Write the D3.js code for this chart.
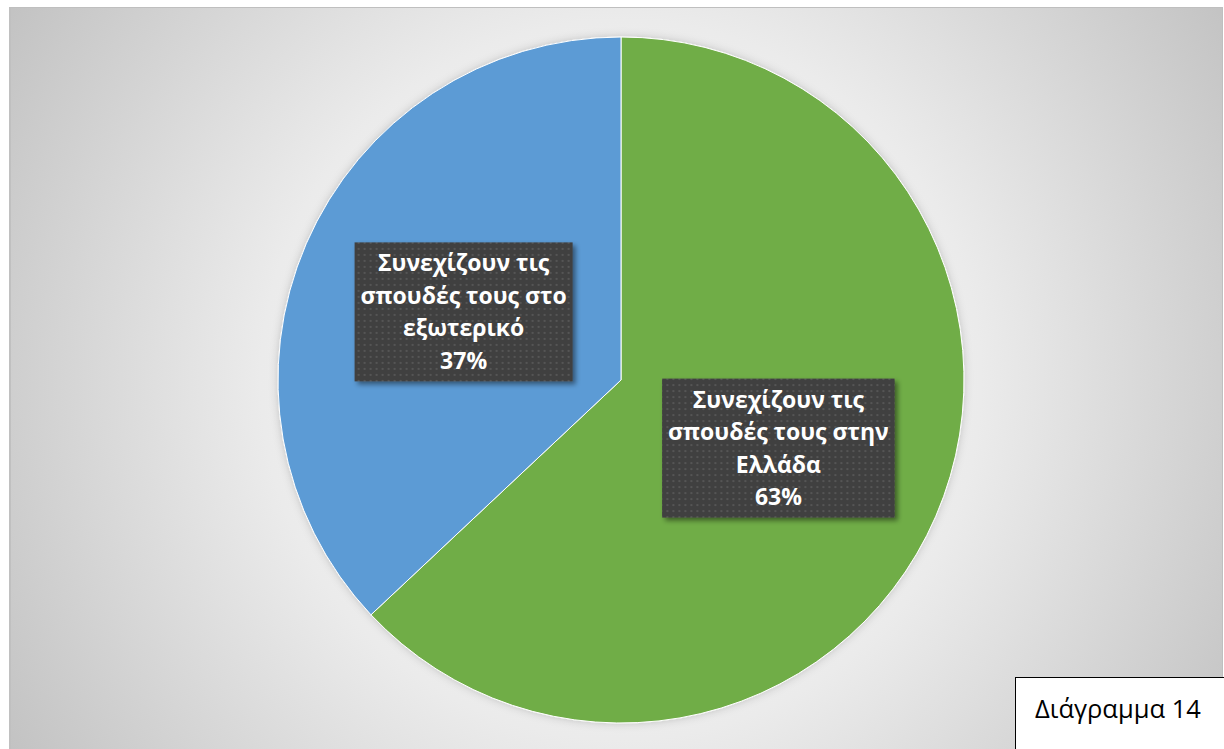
<!DOCTYPE html>
<html>
<head>
<meta charset="utf-8">
<script src="https://cdn.jsdelivr.net/npm/d3@7"></script>
<style>
  html, body { margin: 0; padding: 0; background: #ffffff; }
  svg { display: block; }
</style>
</head>
<body>
<svg id="chart" width="1224" height="749"></svg>
<script>
// ---- data ----
const categories = [
  "Συνεχίζουν τις σπουδές τους στην Ελλάδα",
  "Συνεχίζουν τις σπουδές τους στο εξωτερικό"
];
const values = [63, 37];
const labelLines = [
  ["Συνεχίζουν τις", "σπουδές τους στην", "Ελλάδα"],
  ["Συνεχίζουν τις", "σπουδές τους στο", "εξωτερικό"]
];
const colors = ["#70AD47", "#5B9BD5"];
const captionText = "Διάγραμμα 14";

// ---- layout ----
const W = 1224, H = 749;
const cx = 621, cy = 380, R = 343;
const svg = d3.select("#chart");
const defs = svg.append("defs");

const bg = defs.append("radialGradient").attr("id", "bgGrad")
  .attr("gradientUnits", "userSpaceOnUse")
  .attr("cx", cx).attr("cy", cy).attr("r", 720);
bg.append("stop").attr("offset", 0).attr("stop-color", "#ffffff");
bg.append("stop").attr("offset", 0.5).attr("stop-color", "#ebebeb");
bg.append("stop").attr("offset", 1).attr("stop-color", "#c2c2c2");

const pat = defs.append("pattern").attr("id", "dots")
  .attr("patternUnits", "userSpaceOnUse").attr("width", 6).attr("height", 6);
pat.append("rect").attr("width", 6).attr("height", 6).attr("fill", "#404040");
pat.append("rect").attr("x", 2).attr("y", 2).attr("width", 2).attr("height", 2).attr("fill", "#555555");

const sh = defs.append("filter").attr("id", "boxShadow")
  .attr("x", "-20%").attr("y", "-20%").attr("width", "140%").attr("height", "140%");
sh.append("feDropShadow").attr("dx", 3).attr("dy", 3).attr("stdDeviation", 2.5)
  .attr("flood-color", "#000").attr("flood-opacity", 0.45);

const ps = defs.append("filter").attr("id", "pieShadow")
  .attr("x", "-10%").attr("y", "-10%").attr("width", "120%").attr("height", "120%");
ps.append("feDropShadow").attr("dx", 0).attr("dy", 0).attr("stdDeviation", 4)
  .attr("flood-color", "#000").attr("flood-opacity", 0.18);

// background / chart area
svg.append("rect").attr("x", 9.5).attr("y", 7.5).attr("width", 1213).attr("height", 745)
  .attr("fill", "url(#bgGrad)").attr("stroke", "#bfbfbf").attr("stroke-width", 1);
svg.append("rect").attr("x", 9).attr("y", 8).attr("width", 2).attr("height", 741).attr("fill", "#c0c0c0");

// pie
const data = categories.map((c, i) => ({ cat: c, value: values[i], lines: labelLines[i], color: colors[i] }));
const pie = d3.pie().value(d => d.value).sort(null);
const arcs = pie(data);
const arc = d3.arc().innerRadius(0).outerRadius(R);

const g = svg.append("g").attr("transform", `translate(${cx},${cy})`);
g.append("g").attr("filter", "url(#pieShadow)")
  .selectAll("path").data(arcs).join("path")
  .attr("d", arc)
  .attr("fill", d => d.data.color)
  .attr("stroke", "#ffffff").attr("stroke-width", 1);

// data labels
const fs = 23, lh = 32.5;
const lab = g.selectAll("g.lab").data(arcs).join("g").attr("class", "lab")
  .attr("transform", d => `translate(${arc.centroid(d)})`);

lab.each(function(d) {
  const sel = d3.select(this);
  const total = d3.sum(values);
  const lines = d.data.lines.concat([Math.round(d.data.value / total * 100) + "%"]);
  const rect = sel.append("rect").attr("fill", "url(#dots)").attr("filter", "url(#boxShadow)");
  const t = sel.append("text")
    .attr("text-anchor", "middle")
    .attr("font-family", "'Open Sans', 'Noto Sans', sans-serif")
    .attr("font-weight", 700).attr("font-size", fs).attr("fill", "#ffffff");
  lines.forEach((ln, i) => {
    t.append("tspan").attr("x", 0)
      .attr("y", (i - (lines.length - 1) / 2) * lh + fs * 0.36)
      .text(ln);
  });
  const wmax = d3.max(t.selectAll("tspan").nodes(), n => n.getComputedTextLength());
  const bw = wmax + 12, bh = 139;
  rect.attr("x", -bw / 2).attr("y", -bh / 2).attr("width", bw).attr("height", bh);
});

// caption box
svg.append("rect").attr("x", 1015.5).attr("y", 677.5).attr("width", 220).attr("height", 100)
  .attr("fill", "#ffffff").attr("stroke", "#000000").attr("stroke-width", 1);
svg.append("text").attr("x", 1035).attr("y", 718)
  .attr("font-family", "'Open Sans', 'Noto Sans', sans-serif")
  .attr("font-size", 25.5).attr("fill", "#000000")
  .text(captionText);
</script>
</body>
</html>
